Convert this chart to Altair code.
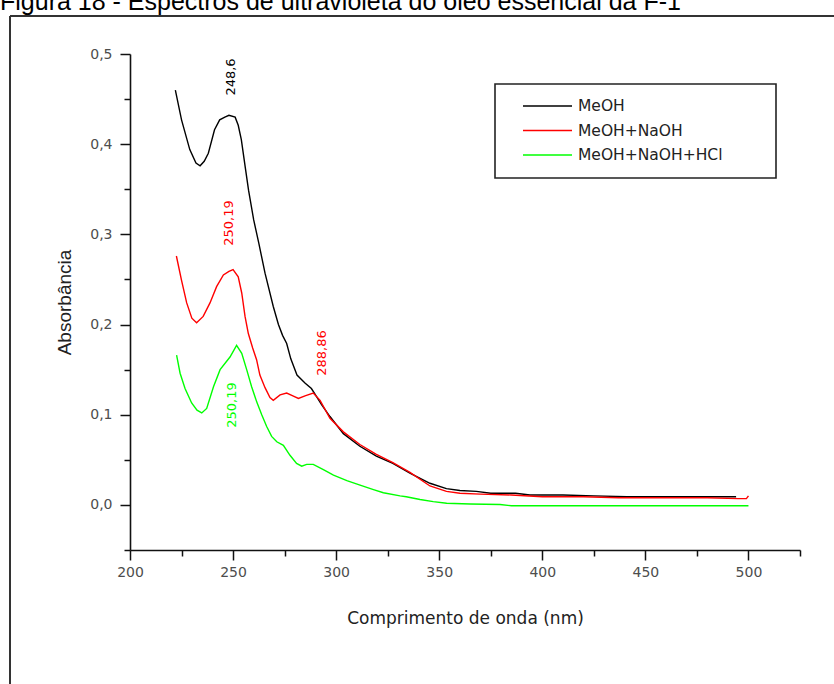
import altair as alt
import pandas as pd

# ---------------- data ----------------
series_names = ["MeOH", "MeOH+NaOH", "MeOH+NaOH+HCl"]
series_colors = ["#000000", "#ff0000", "#00ff00"]

wl_meoh = [222, 225, 229, 232, 234, 236, 238, 241, 243.5, 246, 248, 251, 252.5, 254, 256, 257.5,
           260, 262.5, 265.5, 269.5, 272, 274, 276, 278, 281, 285, 288, 290.5, 293, 297, 303.5,
           311.5, 319.5, 327.5, 336, 345.5, 353.5, 360, 368, 375, 387, 394, 410, 425, 441, 460, 480, 494]
abs_meoh = [0.460, 0.427, 0.394, 0.379, 0.376, 0.381, 0.390, 0.416, 0.427, 0.430, 0.432, 0.430, 0.421,
            0.405, 0.373, 0.349, 0.316, 0.290, 0.257, 0.220, 0.200, 0.188, 0.179, 0.162, 0.144, 0.135,
            0.129, 0.120, 0.111, 0.098, 0.079, 0.065, 0.054, 0.046, 0.035, 0.024, 0.018, 0.016, 0.015,
            0.013, 0.013, 0.011, 0.011, 0.010, 0.009, 0.009, 0.009, 0.009]

wl_naoh = [222.5, 225, 227.5, 230, 232.3, 235.5, 238.8, 242, 245.3, 248, 250, 252.5, 254.2, 255.8,
           257.4, 259.5, 261.4, 263, 265.5, 267.9, 269.5, 272.8, 276, 279, 281.7, 284.9, 288.9, 292.2,
           297, 303.5, 311.5, 319.5, 327.5, 335.8, 345.5, 353.5, 360, 370, 385, 400, 420, 437, 440,
           460, 480, 495, 499, 500]
abs_naoh = [0.276, 0.249, 0.224, 0.207, 0.202, 0.209, 0.224, 0.242, 0.255, 0.259, 0.261, 0.253, 0.235,
            0.209, 0.190, 0.174, 0.161, 0.144, 0.130, 0.119, 0.116, 0.122, 0.124, 0.121, 0.118, 0.121,
            0.124, 0.116, 0.096, 0.081, 0.067, 0.056, 0.047, 0.036, 0.021, 0.015, 0.013, 0.012, 0.011,
            0.009, 0.009, 0.008, 0.008, 0.008, 0.008, 0.007, 0.007, 0.010]

wl_hcl = [222.6, 224.3, 226.7, 229.9, 232.5, 234.8, 237.2, 240.5, 243.7, 248.5, 251.7, 254.2, 256.6,
          259, 261.5, 263.9, 266.3, 268.7, 271.2, 274.4, 277.6, 280.8, 283.3, 285.7, 288.9, 293.8,
          298.7, 305.2, 311.6, 318.1, 322.9, 331, 334, 340.7, 347.1, 353.6, 365, 379.5, 385, 400,
          430, 460, 500]
abs_hcl = [0.166, 0.146, 0.129, 0.113, 0.105, 0.102, 0.107, 0.131, 0.150, 0.164, 0.177, 0.168, 0.150,
           0.131, 0.114, 0.100, 0.087, 0.076, 0.070, 0.066, 0.055, 0.046, 0.043, 0.045, 0.045, 0.039,
           0.033, 0.027, 0.022, 0.017, 0.0135, 0.010, 0.009, 0.006, 0.0036, 0.0018, 0.001, 0.0005,
           -0.001, -0.001, -0.001, -0.001, -0.001]

peak_labels = ["248,6", "250,19", "288,86", "250,19"]
peak_x = [249.2, 248.0, 293.1, 249.5]
peak_y = [0.4745, 0.3126, 0.1684, 0.1108]
peak_colors = ["#000000", "#ff0000", "#ff0000", "#00ff00"]

x_ticks = [200, 225, 250, 275, 300, 325, 350, 375, 400, 425, 450, 475, 500, 525]
y_ticks = [-0.05, 0.0, 0.05, 0.1, 0.15, 0.2, 0.25, 0.3, 0.35, 0.4, 0.45, 0.5]

fig_title = "Figura 18 - Espectros de ultravioleta do óleo essencial da F-1"

# ---------------- tables ----------------
rows = []
for name, xs, ys in zip(series_names, [wl_meoh, wl_naoh, wl_hcl], [abs_meoh, abs_naoh, abs_hcl]):
    for i, (x, y) in enumerate(zip(xs, ys)):
        rows.append({"serie": name, "wl": x, "abs": y, "idx": i})
df = pd.DataFrame(rows)

ann = pd.DataFrame({"txt": peak_labels, "wl": peak_x, "abs": peak_y, "col": peak_colors})
one = pd.DataFrame({"k": [0]})

W, H = 670, 496
PL, PT = 130, 54

x_scale = alt.Scale(domain=[200, 525], nice=False, zero=False)
y_scale = alt.Scale(domain=[-0.05, 0.5], nice=False, zero=False)

x_axis = alt.Axis(
    values=x_ticks,
    labelExpr="datum.value % 50 === 0 ? datum.label : ''",
    tickSize={"condition": {"test": "datum.value % 50 === 0", "value": 10}, "value": 6},
    title="Comprimento de onda (nm)",
    titleX=335, titleY=73, titleBaseline="alphabetic", titleAlign="center",
    titleFont="DejaVu Sans", titleFontSize=17, titleFontWeight="normal", titleColor="#222222",
    labelFont="DejaVu Sans", labelFontSize=14, labelColor="#4d4d4d", labelPadding=5,
    grid=False, domainColor="#111111", domainWidth=1.6, tickColor="#111111", tickWidth=1.5,
    labelFlush=False, labelOverlap=False,
)
y_axis = alt.Axis(
    values=y_ticks,
    labelExpr="abs(round(datum.value*100)) % 10 === 0 ? replace(format(datum.value, '.1f'), '.', ',') : ''",
    tickSize={"condition": {"test": "abs(round(datum.value*100)) % 10 === 0", "value": 10}, "value": 6},
    title="Absorbância",
    titleX=-60, titleY=248, titleAngle=270, titleBaseline="alphabetic", titleAlign="center",
    titleFont="Liberation Sans", titleFontSize=19, titleFontWeight="normal", titleColor="#222222",
    labelFont="DejaVu Sans", labelFontSize=14, labelColor="#4d4d4d", labelPadding=8,
    grid=False, domainColor="#111111", domainWidth=1.6, tickColor="#111111", tickWidth=1.5,
    labelFlush=False, labelOverlap=False,
)

lines = alt.Chart(df).mark_line(strokeWidth=1.4).encode(
    x=alt.X("wl:Q", scale=x_scale, axis=x_axis),
    y=alt.Y("abs:Q", scale=y_scale, axis=y_axis),
    color=alt.Color("serie:N", scale=alt.Scale(domain=series_names, range=series_colors), legend=None),
    order="idx:Q",
)

labels = alt.Chart(ann).mark_text(angle=270, align="center", baseline="middle",
                                   font="DejaVu Sans", fontSize=13).encode(
    x="wl:Q", y="abs:Q", text="txt:N", color=alt.Color("col:N", scale=None),
)

# legend (drawn box)
leg_box = alt.Chart(one).mark_rect(fill="white", stroke="#222222", strokeWidth=1.6).encode(
    x=alt.value(365), x2=alt.value(646), y=alt.value(30), y2=alt.value(124))
leg_layers = [leg_box]
for i, (name, col) in enumerate(zip(series_names, series_colors)):
    yy = 52 + 24.5 * i
    leg_layers.append(alt.Chart(one).mark_rule(color=col, strokeWidth=1.6).encode(
        x=alt.value(393), x2=alt.value(442), y=alt.value(yy)))
    leg_layers.append(alt.Chart(one).mark_text(align="left", baseline="middle", font="DejaVu Sans",
                                               fontSize=15.5, color="#222222").encode(
        x=alt.value(448), y=alt.value(yy), text=alt.value(name)))

# outer frame and cut figure caption
frame_top = alt.Chart(one).mark_rule(color="#333333", strokeWidth=2).encode(
    x=alt.value(10 - PL), x2=alt.value(834 - PL), y=alt.value(16 - PT))
frame_left = alt.Chart(one).mark_rule(color="#333333", strokeWidth=2).encode(
    x=alt.value(10 - PL), y=alt.value(16 - PT), y2=alt.value(684 - PT))
caption = alt.Chart(one).mark_text(align="left", baseline="alphabetic", font="Liberation Sans",
                                   fontSize=25, color="#000000").encode(
    x=alt.value(0 - PL), y=alt.value(10 - PT), text=alt.value(fig_title))

chart = alt.layer(frame_top, frame_left, caption, lines, labels, *leg_layers).properties(
    width=W, height=H,
    padding={"left": PL, "top": PT, "right": 834 - PL - W, "bottom": 684 - PT - H},
    autosize=alt.AutoSizeParams(type="none"),
    background="white",
).configure_view(stroke=None)

chart.save("out.html", embed_options={"renderer": "svg", "actions": False})
